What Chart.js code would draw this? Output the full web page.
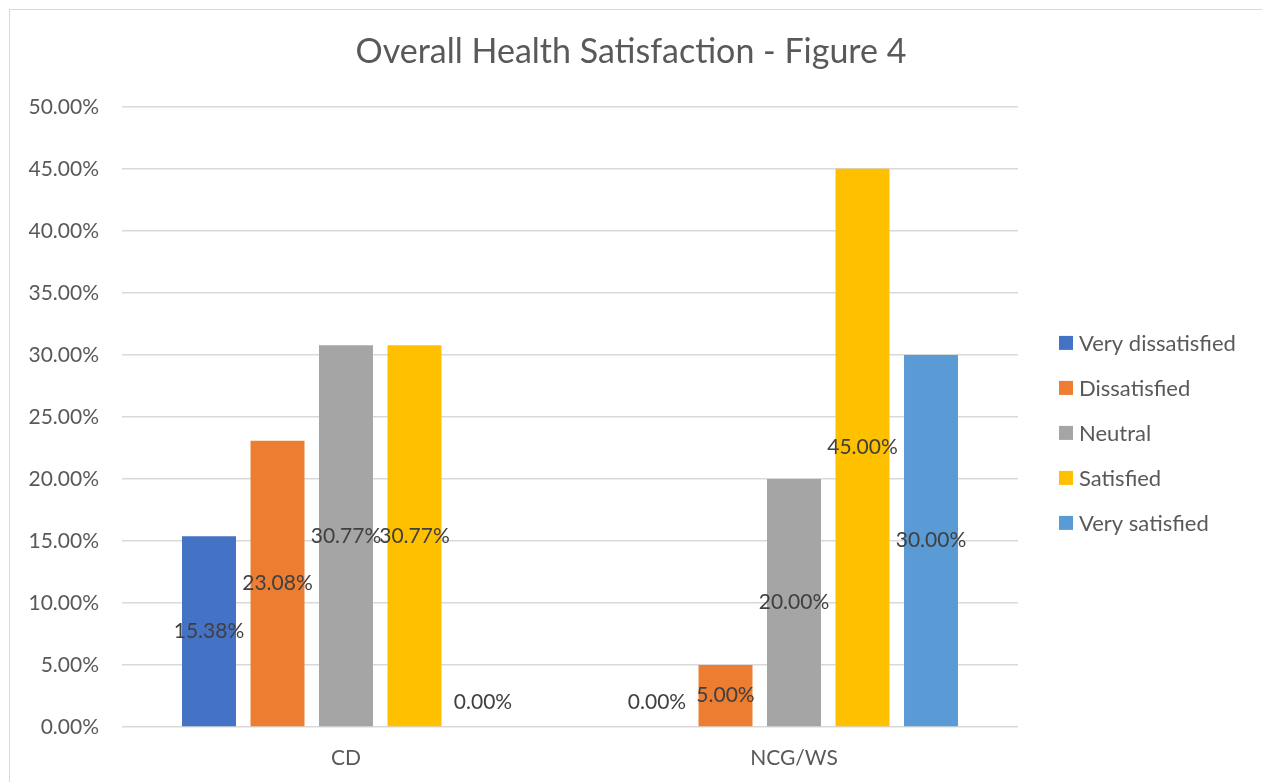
<!DOCTYPE html>
<html>
<head>
<meta charset="utf-8">
<script src="https://cdn.jsdelivr.net/npm/chart.js@4.4.1/dist/chart.umd.min.js"></script>
<style>
  html, body { margin: 0; padding: 0; background: #ffffff; overflow: hidden; }
  #frame {
    position: absolute; left: 9px; top: 9px; width: 1300px; height: 820px;
    border: 1px solid #d9d9d9; box-sizing: border-box;
  }
  #wrap { position: absolute; left: 0; top: 0; width: 1262px; height: 782px; }
</style>
</head>
<body>
<div id="frame"></div>
<div id="wrap"><canvas id="chart" width="1262" height="782"></canvas></div>
<script>
// Response groups and satisfaction levels (percent of respondents)
const groups = ['CD', 'NCG/WS'];
const levels = ['Very dissatisfied', 'Dissatisfied', 'Neutral', 'Satisfied', 'Very satisfied'];
const veryDissatisfied = [15.38, 0.00];
const dissatisfied     = [23.08, 5.00];
const neutral          = [30.77, 20.00];
const satisfied        = [30.77, 45.00];
const verySatisfied    = [0.00, 30.00];
const levelColors = ['#4472C4', '#ED7D31', '#A5A5A5', '#FFC000', '#5B9BD5'];
const axisMax = 50;
const axisStep = 5;

const seriesValues = [veryDissatisfied, dissatisfied, neutral, satisfied, verySatisfied];
const FONT = 'Lato, "Open Sans", sans-serif';
const fmt = v => v.toFixed(2) + '%';

// Value labels centred in each bar; zero-height bars get their label lifted off the axis
const barValueLabels = {
  id: 'barValueLabels',
  afterDatasetsDraw(chart) {
    const ctx = chart.ctx;
    ctx.save();
    ctx.font = '21px ' + FONT;
    ctx.fillStyle = '#404040';
    ctx.textAlign = 'center';
    ctx.textBaseline = 'middle';
    chart.data.datasets.forEach((ds, i) => {
      chart.getDatasetMeta(i).data.forEach((bar, j) => {
        const mid = (bar.y + bar.base) / 2;
        const y = Math.min(mid, bar.base - 25);
        ctx.fillText(fmt(ds.data[j]), bar.x, y);
      });
    });
    ctx.restore();
  }
};

// Legend column to the right of the plot with square swatches
const sideLegend = {
  id: 'sideLegend',
  afterDraw(chart) {
    const ctx = chart.ctx;
    const area = chart.chartArea;
    const x = area.right + 41;
    const rowGap = 45;
    const n = chart.data.datasets.length;
    const centerY = (area.top + area.bottom) / 2 + 16;
    const firstY = centerY - rowGap * (n - 1) / 2;
    ctx.save();
    ctx.font = '22px ' + FONT;
    ctx.textAlign = 'left';
    ctx.textBaseline = 'middle';
    chart.data.datasets.forEach((ds, i) => {
      const y = firstY + i * rowGap;
      ctx.fillStyle = ds.backgroundColor;
      ctx.fillRect(x, y - 7, 14, 14);
      ctx.fillStyle = '#595959';
      ctx.fillText(ds.label, x + 20, y + 1);
    });
    ctx.restore();
  }
};

new Chart(document.getElementById('chart'), {
  type: 'bar',
  data: {
    labels: groups,
    datasets: levels.map((name, i) => ({
      label: name,
      data: seriesValues[i],
      backgroundColor: levelColors[i],
      borderWidth: 0,
      categoryPercentage: 0.7645,
      barPercentage: 0.788
    }))
  },
  options: {
    responsive: false,
    animation: false,
    devicePixelRatio: 1,
    layout: { padding: 0 },
    plugins: {
      legend: { display: false },
      tooltip: { enabled: false },
      title: {
        display: true,
        text: 'Overall Health Satisfaction - Figure 4',
        color: '#595959',
        font: { family: FONT, size: 34, weight: 'normal', lineHeight: 1.2 },
        padding: { top: 32, bottom: 34 }
      }
    },
    scales: {
      x: {
        grid: { display: false, drawTicks: false },
        border: { display: false },
        ticks: { color: '#595959', font: { family: FONT, size: 21 }, padding: 19 },
        afterFit(scale) { scale.height = 55; }
      },
      y: {
        min: 0,
        max: axisMax,
        grid: { color: '#d9d9d9', lineWidth: 1.5, drawTicks: false },
        border: { display: false },
        ticks: {
          stepSize: axisStep,
          color: '#595959',
          font: { family: FONT, size: 21 },
          padding: 23,
          callback: v => fmt(v)
        },
        afterFit(scale) { scale.width = 122; }
      },
      // empty right-hand axis that keeps room for the legend column
      legendSpace: {
        type: 'linear',
        position: 'right',
        display: true,
        grid: { display: false, drawTicks: false },
        border: { display: false },
        ticks: { display: false },
        afterFit(scale) { scale.width = 244; }
      }
    }
  },
  plugins: [barValueLabels, sideLegend]
});
</script>
</body>
</html>
